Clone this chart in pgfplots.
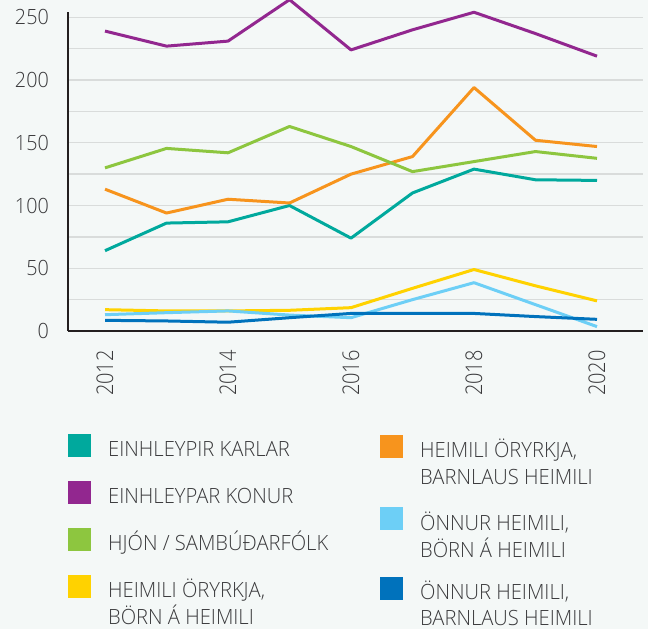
\documentclass[border=0pt]{standalone}
\usepackage{pgfplots}
\pgfplotsset{compat=1.18}
\usepackage{fontspec}
\setmainfont{Open Sans}
\newfontfamily\cfont[FakeStretch=0.96]{Open Sans Light}
\newfontfamily\yfont[FakeStretch=0.94]{Open Sans Light}
\newfontfamily\xfont[FakeStretch=0.87]{Open Sans Light}
\definecolor{bg}{HTML}{F4F8F7}
\definecolor{txt}{HTML}{3A3A3C}
\definecolor{axisc}{HTML}{231F20}
\definecolor{gridc}{HTML}{D9DCDB}
\definecolor{cteal}{HTML}{00A99D}
\definecolor{cpurple}{HTML}{92278F}
\definecolor{cgreen}{HTML}{8DC63F}
\definecolor{cyellow}{HTML}{FFD200}
\definecolor{corange}{HTML}{F7941D}
\definecolor{clblue}{HTML}{6DCFF6}
\definecolor{cdblue}{HTML}{0072BC}
\begin{document}
\begin{tikzpicture}
\path[use as bounding box, fill=bg] (0,0) rectangle (648bp,-629bp);
\begin{axis}[
  at={(68bp,-331bp)}, anchor=south west,
  scale only axis, width=575bp, height=319bp,
  xmin=2011.398, xmax=2020.748, ymin=0, ymax=254.2,
  axis x line=bottom, axis y line=left,
  axis line style={-, line width=2.6bp, draw=axisc},
  xtick={2012,2014,2016,2018,2020},
  ytick={0,50,...,250}, minor ytick={25,75,...,225},
  ymajorgrids, yminorgrids,
  major grid style={line width=1.3bp, draw=gridc},
  minor grid style={line width=1.3bp, draw=gridc},
  major tick length=0pt, minor tick length=0pt,
  tick style={draw=none},
  /pgf/number format/assume math mode=true,
  /pgf/number format/1000 sep={},
  xticklabel={\pgfmathprintnumber{\tick}},
  yticklabel={\pgfmathprintnumber{\tick}},
  xticklabel style={rotate=90, anchor=east, inner sep=0pt, font=\xfont\fontsize{23bp}{23bp}\selectfont, text=txt},
  yticklabel style={anchor=east, inner sep=0pt, font=\yfont\fontsize{21bp}{21bp}\selectfont, text=txt},
  xticklabel shift=19bp, yticklabel shift=19bp,
  clip=false,
  every axis plot/.append style={line width=3bp, line join=round},
]
\addplot[cyellow] coordinates {(2012,17) (2013,16) (2014,16) (2015,16.5) (2016,18.6) (2017,34) (2018,49) (2019,36) (2020,24)};
\addplot[clblue] coordinates {(2012,13) (2013,14.6) (2014,16) (2015,12.7) (2016,10.6) (2017,25) (2018,38.5) (2019,21) (2020,3.5)};
\addplot[cdblue] coordinates {(2012,8.5) (2013,8) (2014,7) (2015,10.6) (2016,14) (2017,14) (2018,14) (2019,11.5) (2020,9.3)};
\addplot[cteal] coordinates {(2012,64) (2013,86) (2014,87) (2015,100) (2016,74) (2017,110) (2018,129) (2019,120.5) (2020,120)};
\addplot[corange] coordinates {(2012,113) (2013,94) (2014,105) (2015,102) (2016,125) (2017,139) (2018,194) (2019,152) (2020,147)};
\addplot[cgreen] coordinates {(2012,130) (2013,145.5) (2014,142) (2015,163) (2016,147) (2017,127) (2018,135) (2019,143) (2020,137.6)};
\addplot[cpurple] coordinates {(2012,239) (2013,227) (2014,231) (2015,264) (2016,224) (2017,240) (2018,254) (2019,237) (2020,219)};
\end{axis}
\tikzset{lab/.style={anchor=base west, inner sep=0pt, text depth=0pt, font=\cfont\fontsize{21bp}{27bp}\selectfont, text=txt}}
% column 1
\fill[cteal] (68bp,-434bp) rectangle (91bp,-457bp);
\node[lab] at (108bp,-456bp) {EINHLEYPIR KARLAR};
\fill[cpurple] (68bp,-481bp) rectangle (91bp,-504bp);
\node[lab] at (108bp,-503bp) {EINHLEYPAR KONUR};
\fill[cgreen] (68bp,-528bp) rectangle (91bp,-551bp);
\node[lab] at (108bp,-550bp) {HJÓN / SAMBÚÐARFÓLK};
\fill[cyellow] (68bp,-575bp) rectangle (91bp,-598bp);
\node[lab] at (108bp,-597bp) {HEIMILI ÖRYRKJA,};
\node[lab] at (108bp,-624bp) {BÖRN Á HEIMILI};
% column 2
\fill[corange] (380bp,-435bp) rectangle (403bp,-458bp);
\node[lab] at (420bp,-457bp) {HEIMILI ÖRYRKJA,};
\node[lab] at (420bp,-484bp) {BARNLAUS HEIMILI};
\fill[clblue] (380bp,-507bp) rectangle (403bp,-530bp);
\node[lab] at (420bp,-530bp) {ÖNNUR HEIMILI,};
\node[lab] at (420bp,-557bp) {BÖRN Á HEIMILI};
\fill[cdblue] (380bp,-577bp) rectangle (403bp,-600bp);
\node[lab] at (420bp,-599bp) {ÖNNUR HEIMILI,};
\node[lab] at (420bp,-625bp) {BARNLAUS HEIMILI};
\end{tikzpicture}
\end{document}
